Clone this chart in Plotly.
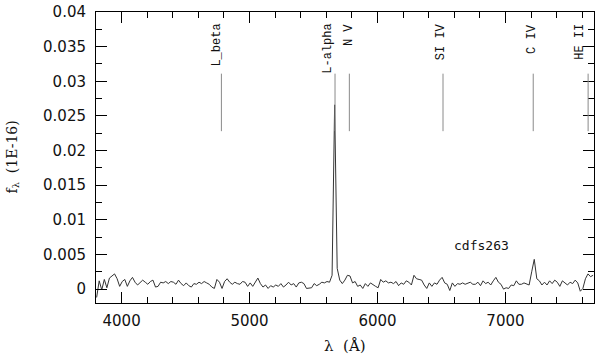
import plotly.graph_objects as go

# ---------------- data ----------------
wave_start = 3805.0   # Angstrom, first sample
wave_step = 20.0      # Angstrom per sample

flux = [
    -0.0012, 0.0012, -0.0001, 0.0014, 0.0002, 0.0016, 0.0019, 0.0022, 0.0015, 0.0004,
    0.0011, 0.0014, 0.0004, 0.0012, 0.0017, 0.0010, 0.0006, 0.0009, 0.0013, 0.0010,
    0.0007, 0.0011, 0.0013, 0.0003, 0.0004, 0.0010, 0.0009, 0.0011, 0.0008, 0.0011,
    0.0010, 0.0007, 0.0013, 0.0008, 0.0005, 0.0009, 0.0005, 0.0003, 0.0008, 0.0007,
    0.0010, 0.0008, 0.0011, 0.0009, 0.0007, 0.0003, 0.0001, 0.0014, 0.0010, 0.0001,
    0.0011, 0.0015, 0.0010, 0.0007, 0.0010, 0.0008, 0.0007, 0.0011, 0.0010, 0.0004,
    0.0009, 0.0004, 0.0011, 0.0016, 0.0008, 0.0003, 0.0006, 0.0001, 0.0005, 0.0003,
    0.0006, 0.0004, 0.0008, 0.0003, 0.0006, 0.0010, 0.0006, 0.0008, 0.0003, 0.0009,
    0.0010, 0.0008, 0.0001, 0.0002, 0.0002, 0.0008, 0.0005, 0.0007, 0.0010, 0.0009,
    0.0011, 0.0010, 0.0020, 0.0266, 0.0030, 0.0013, 0.0008, 0.0013, 0.0020, 0.0019,
    0.0009, 0.0011, 0.0004, 0.0006, 0.0001, 0.0008, 0.0004, 0.0009, 0.0006, 0.0004,
    0.0002, 0.0014, 0.0010, 0.0012, 0.0009, 0.0010, 0.0008, 0.0011, 0.0005, 0.0009,
    0.0007, 0.0012, 0.0010, 0.0006, 0.0020, 0.0015, 0.0014, 0.0013, 0.0006, 0.0001,
    0.0009, 0.0004, 0.0009, 0.0007, 0.0013, 0.0017, 0.0009, 0.0007, -0.0002, 0.0009,
    0.0004, 0.0008, 0.0007, 0.0009, 0.0007, 0.0008, 0.0010, 0.0007, 0.0007, 0.0010,
    0.0005, 0.0012, 0.0008, 0.0010, 0.0006, 0.0012, 0.0017, 0.0010, 0.0007, 0.0000,
    0.0002, 0.0001, 0.0006, 0.0005, 0.0012, 0.0007, 0.0007, 0.0009, 0.0008, 0.0006,
    0.0025, 0.0043, 0.0015, 0.0012, 0.0006, 0.0010, 0.0006, 0.0012, 0.0008, 0.0013,
    0.0010, 0.0004, 0.0012, 0.0009, 0.0006, 0.0010, 0.0008, 0.0013, 0.0009, -0.0003,
    0.0001, 0.0015, 0.0022, 0.0018, 0.0020,
]
wave = [wave_start + wave_step * i for i in range(len(flux))]

line_names = ["L_beta", "L-alpha", "N V", "SI IV", "C IV", "HE II"]
line_waves = [4780, 5668, 5780, 6512, 7217, 7646]
marker_low = 0.0228
marker_high = 0.0311

object_name = "cdfs263"

x_tickvals = [4000, 5000, 6000, 7000]
x_ticktext = ["4000", "5000", "6000", "7000"]
y_tickvals = [0, 0.005, 0.01, 0.015, 0.02, 0.025, 0.03, 0.035, 0.04]
y_ticktext = ["0", "0.005", "0.01", "0.015", "0.02", "0.025", "0.03", "0.035", "0.04"]

# ---------------- style ----------------
label_dx = [-4, -7, -1, -2, -2, -8]   # pixel offsets of the rotated labels
tick_font = dict(family="DejaVu Sans", size=15, color="#111111")
mono_font = dict(family="Liberation Mono", size=12, color="#111111")

fig = go.Figure()
fig.add_trace(go.Scatter(
    x=wave, y=flux, mode="lines",
    line=dict(color="#333333", width=1),
    hoverinfo="skip", showlegend=False,
))

for name, w, dx in zip(line_names, line_waves, label_dx):
    fig.add_shape(type="line", xref="x", yref="y", x0=w, x1=w,
                  y0=marker_low, y1=marker_high,
                  line=dict(color="#8a8a8a", width=1))
    fig.add_annotation(x=w, y=0.0386, xref="x", yref="y", text=name,
                       textangle=-90, showarrow=False, xanchor="center",
                       yanchor="top", xshift=dx, font=mono_font)

fig.add_annotation(x=6810, y=0.0063, xref="x", yref="y", text=object_name,
                   showarrow=False, xanchor="center", yanchor="middle",
                   font=dict(family="DejaVu Sans Mono", size=13, color="#111111"))

# axis titles as annotations
fig.add_annotation(x=0.5, y=0, xref="paper", yref="paper", text="λ  (Å)",
                   showarrow=False, xanchor="center", yanchor="top", yshift=-32,
                   font=dict(family="DejaVu Serif", size=15, color="#111111"))
fig.add_annotation(x=0, y=0.5, xref="paper", yref="paper",
                   text="f<sub>λ</sub>  (1E-16)", textangle=-90,
                   showarrow=False, xanchor="right", yanchor="middle", xshift=-73,
                   font=dict(family="DejaVu Serif", size=14, color="#111111"))

axis_common = dict(
    showline=True, linecolor="black", linewidth=1, mirror="allticks",
    ticks="inside", tickcolor="black", tickwidth=1, ticklen=11,
    showgrid=False, zeroline=False, tickfont=tick_font,
    ticklabeloverflow="allow",
)

fig.update_xaxes(
    range=[3800, 7692], tickmode="array", tickvals=x_tickvals, ticktext=x_ticktext,
    minor=dict(dtick=200, tick0=0, ticks="inside", ticklen=6, tickcolor="black",
               tickwidth=1, showgrid=False),
    ticklabelstandoff=4,
    **axis_common,
)
fig.update_yaxes(
    range=[-0.002, 0.04], tickmode="array", tickvals=y_tickvals, ticktext=y_ticktext,
    minor=dict(dtick=0.0025, tick0=0, ticks="inside", ticklen=6, tickcolor="black",
               tickwidth=1, showgrid=False),
    ticklabelstandoff=6,
    **axis_common,
)

fig.update_layout(
    width=598, height=355,
    margin=dict(l=96, r=3, t=6, b=52),
    paper_bgcolor="white", plot_bgcolor="white",
    showlegend=False,
)

fig.write_html("out.html", config={"displayModeBar": False},
               post_script="document.body.style.margin='0';document.body.style.overflow='hidden';")
